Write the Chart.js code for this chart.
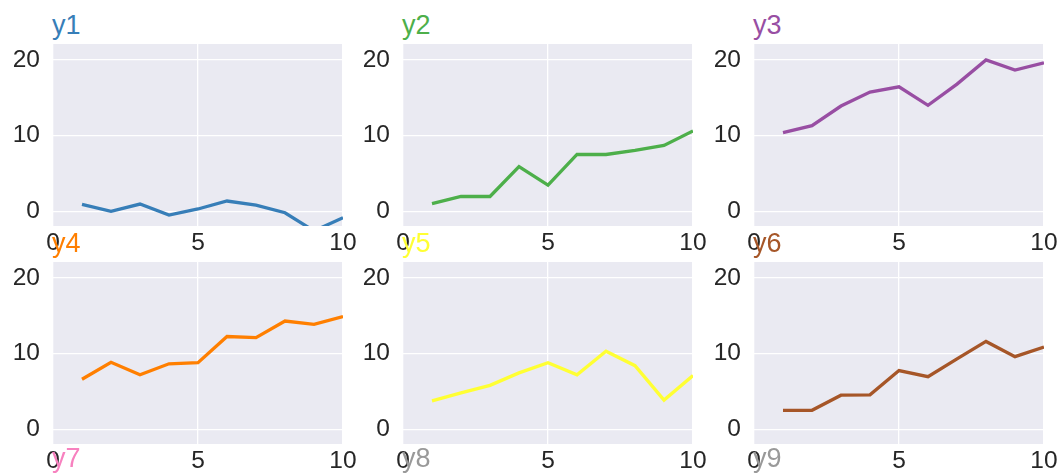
<!DOCTYPE html>
<html>
<head>
<meta charset="utf-8">
<script src="https://cdn.jsdelivr.net/npm/chart.js@4.4.1/dist/chart.umd.min.js"></script>
<style>
  body { margin: 0; background: #fff; width: 1064px; height: 475px; overflow: hidden; position: relative;
         font-family: "Liberation Sans", Arial, sans-serif; }
  .panel { position: absolute; }
  .ttl { position: absolute; font-size: 27px; line-height: 1; white-space: nowrap; }
</style>
</head>
<body>
<script>
// data
const xValues = [1, 2, 3, 4, 5, 6, 7, 8, 9, 10];
const y1 = [0.9, 0.0, 0.95, -0.5, 0.3, 1.35, 0.8, -0.2, -2.6, -0.85];
const y2 = [1.0, 1.95, 1.95, 5.9, 3.45, 7.5, 7.5, 8.05, 8.7, 10.6];
const y3 = [10.4, 11.3, 13.9, 15.75, 16.45, 14.0, 16.8, 20.0, 18.65, 19.6];
const y4 = [6.6, 8.85, 7.2, 8.65, 8.8, 12.25, 12.1, 14.3, 13.85, 14.9];
const y5 = [3.75, 4.8, 5.8, 7.45, 8.8, 7.2, 10.3, 8.4, 3.85, 7.1];
const y6 = [2.5, 2.5, 4.5, 4.55, 7.75, 6.95, 9.3, 11.6, 9.6, 10.85];
const seriesNames = ['y1', 'y2', 'y3', 'y4', 'y5', 'y6', 'y7', 'y8', 'y9'];
const seriesColors = ['#377eb8', '#4daf4a', '#984ea3', '#ff7f00', '#ffff33', '#a65628', '#f781bf', '#999999', '#999999'];
const xTicks = [0, 5, 10];
const yTicks = [0, 10, 20];

const series = [y1, y2, y3, y4, y5, y6];

// grid layout (pixels)
const colLeft = [53, 403, 754];
const rowTop = [44, 262, 477];
const plotW = 290, plotH = 182;
const yAxisW = 53, xAxisH = 36, padRight = 20;

// light grey plot background, seaborn style
const plotBg = {
  id: 'plotBg',
  beforeDraw(chart) {
    const { ctx, chartArea: a } = chart;
    ctx.save();
    ctx.fillStyle = '#eaeaf2';
    ctx.fillRect(a.left, a.top, a.width, a.height);
    ctx.restore();
  }
};

const tickFont = { family: '"Liberation Sans", Arial, sans-serif', size: 24.5 };

function addTitle(i, r, c) {
  const d = document.createElement('div');
  d.className = 'ttl';
  d.textContent = seriesNames[i];
  d.style.color = seriesColors[i];
  d.style.left = (colLeft[c] - 1) + 'px';
  d.style.top = (rowTop[r] - 32) + 'px';
  document.body.appendChild(d);
}

series.forEach((vals, i) => {
  const r = Math.floor(i / 3), c = i % 3;
  const cv = document.createElement('canvas');
  cv.className = 'panel';
  cv.width = yAxisW + plotW + padRight;
  cv.height = plotH + xAxisH;
  cv.style.left = (colLeft[c] - yAxisW) + 'px';
  cv.style.top = rowTop[r] + 'px';
  document.body.appendChild(cv);

  new Chart(cv.getContext('2d'), {
    type: 'line',
    data: {
      datasets: [{
        label: seriesNames[i],
        data: xValues.map((x, k) => ({ x: x, y: vals[k] })),
        borderColor: seriesColors[i],
        borderWidth: 3.3,
        pointRadius: 0,
        tension: 0,
        fill: false
      }]
    },
    options: {
      responsive: false,
      animation: false,
      events: [],
      layout: { padding: { top: 0, right: padRight, bottom: 0, left: 0 } },
      plugins: { legend: { display: false }, tooltip: { enabled: false }, title: { display: false } },
      scales: {
        x: {
          type: 'linear',
          min: 0, max: 10,
          afterBuildTicks: s => { s.ticks = xTicks.map(v => ({ value: v })); },
          afterFit: s => { s.height = xAxisH; s.paddingLeft = 0; s.paddingRight = 0; },
          grid: { color: '#ffffff', lineWidth: 1.3, drawTicks: false },
          border: { display: false },
          ticks: { color: '#262626', font: tickFont, padding: 3, maxRotation: 0 }
        },
        y: {
          min: -1.95, max: 22.1,
          afterBuildTicks: s => { s.ticks = yTicks.map(v => ({ value: v })); },
          afterFit: s => { s.width = yAxisW; s.paddingTop = 0; s.paddingBottom = 0; },
          grid: { color: '#ffffff', lineWidth: 1.3, drawTicks: false },
          border: { display: false },
          ticks: { color: '#262626', font: tickFont, padding: 13 }
        }
      }
    },
    plugins: [plotBg]
  });
});

// titles, including the third row whose axes fall below the picture
for (let i = 0; i < 9; i++) addTitle(i, Math.floor(i / 3), i % 3);
</script>
</body>
</html>
